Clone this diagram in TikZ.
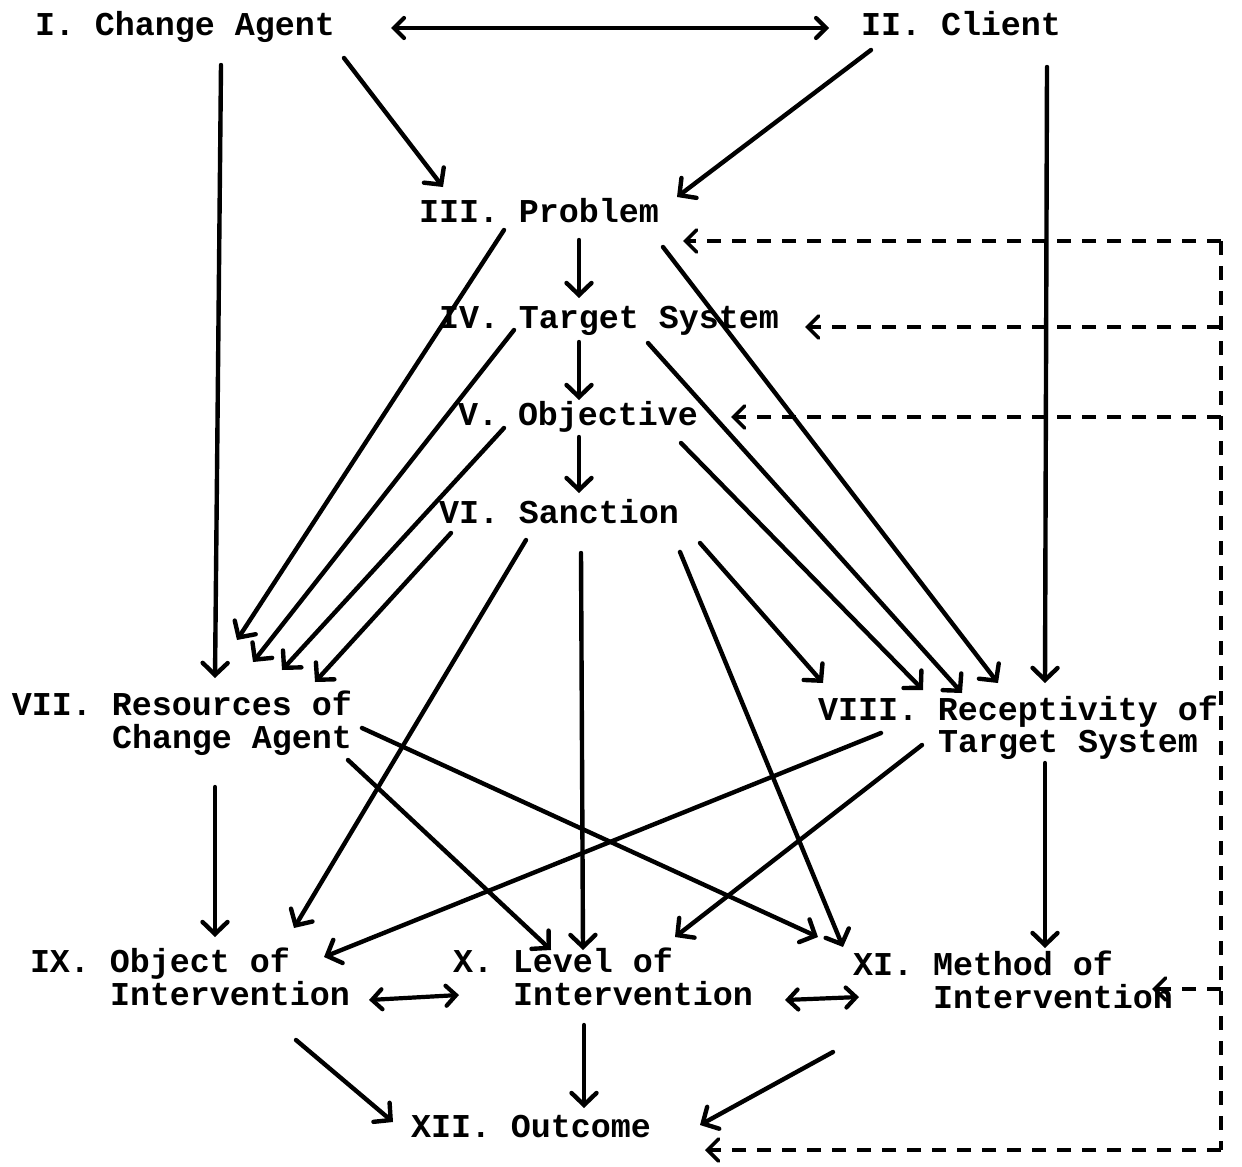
\documentclass[tikz,border=0pt]{standalone}
\usepackage{fontspec}
\newfontfamily\tw{Liberation Mono}
\usetikzlibrary{arrows.meta}
\newcommand\twfont{\tw\bfseries\fontsize{33.33}{32.5}\selectfont}
\begin{document}
\begin{tikzpicture}[x=1pt,y=-1pt,
  lab/.style={anchor=base west,inner sep=0pt,outer sep=0pt,font=\twfont},
  con/.style={line width=4.4pt,line cap=round,-{Straight Barb[length=12pt,width=25pt,line cap=round]}},
  dcon/.style={line width=4.2pt,line cap=round,{Straight Barb[length=10pt,width=20pt,line cap=round]}-{Straight Barb[length=10pt,width=20pt,line cap=round]}},
  fb/.style={line width=3.6pt,dash pattern=on 14pt off 11pt},
  fbarr/.style={fb,-{Straight Barb[length=11pt,width=22pt,line cap=round]}}
]
\useasboundingbox (0,0) rectangle (1242,1167);
% nodes
\node[lab] (nI)   at (35,35)   {I. Change Agent};
\node[lab] (nII)  at (861,35)  {II. Client};
\node[lab] (nIII) at (419,222) {III. Problem};
\node[lab] (nIV)  at (439,328) {IV. Target System};
\node[lab] (nV)   at (458,425) {V. Objective};
\node[lab] (nVI)  at (439,523) {VI. Sanction};
\node[lab] (nVII) at (12,715)  {\begin{tabular}[t]{@{}l@{}}VII. Resources of\\\phantom{VII. }Change Agent\end{tabular}};
\node[lab] (nVIII) at (818,720) {\begin{tabular}[t]{@{}l@{}}VIII. Receptivity of\\\phantom{VIII. }Target System\end{tabular}};
\node[lab] (nIX)  at (30,972)  {\begin{tabular}[t]{@{}l@{}}IX. Object of\\\phantom{IX. }Intervention\end{tabular}};
\node[lab] (nX)   at (453,972) {\begin{tabular}[t]{@{}l@{}}X. Level of\\\phantom{X. }Intervention\end{tabular}};
\node[lab] (nXI)  at (853,975) {\begin{tabular}[t]{@{}l@{}}XI. Method of\\\phantom{XI. }Intervention\end{tabular}};
\node[lab] (nXII) at (411,1137) {XII. Outcome};

% top
\draw[dcon] ([shift={(356,-7)}]nI.base west) -- ([shift={(-32,-7)}]nII.base west);
\draw[con] ([shift={(309,23)}]nI.base west) -- ([shift={(24,-35)}]nIII.base west);
\draw[con] ([shift={(10,15)}]nII.base west) -- ([shift={(258,-25)}]nIII.base west);
\draw[con] ([shift={(186,30)}]nI.base west) -- ([shift={(203,-37)}]nVII.base west);
\draw[con] ([shift={(186,32)}]nII.base west) -- ([shift={(227,-37)}]nVIII.base west);

% central chain
\draw[con] ([shift={(160,18)}]nIII.base west) -- ([shift={(140,-30)}]nIV.base west);
\draw[con] ([shift={(140,14)}]nIV.base west) -- ([shift={(121,-25)}]nV.base west);
\draw[con] ([shift={(121,12)}]nV.base west) -- ([shift={(140,-30)}]nVI.base west);
\draw[con] ([shift={(142,30)}]nVI.base west) -- ([shift={(130,-22)}]nX.base west);

% into VII
\draw[con] ([shift={(85,8)}]nIII.base west) -- ([shift={(225,-75)}]nVII.base west);
\draw[con] ([shift={(75,2)}]nIV.base west) -- ([shift={(241,-53)}]nVII.base west);
\draw[con] ([shift={(46,3)}]nV.base west) -- ([shift={(270,-45)}]nVII.base west);
\draw[con] ([shift={(12,10)}]nVI.base west) -- ([shift={(303,-33)}]nVII.base west);

% into VIII
\draw[con] ([shift={(244,25)}]nIII.base west) -- ([shift={(180,-37)}]nVIII.base west);
\draw[con] ([shift={(209,15)}]nIV.base west) -- ([shift={(144,-27)}]nVIII.base west);
\draw[con] ([shift={(223,18)}]nV.base west) -- ([shift={(105,-30)}]nVIII.base west);
\draw[con] ([shift={(261,20)}]nVI.base west) -- ([shift={(5,-37)}]nVIII.base west);

% VI to IX, XI
\draw[con] ([shift={(87,17)}]nVI.base west) -- ([shift={(264,-44)}]nIX.base west);
\draw[con] ([shift={(241,29)}]nVI.base west) -- ([shift={(-10,-28)}]nXI.base west);

% from VII
\draw[con] ([shift={(203,72)}]nVII.base west) -- ([shift={(185,-35)}]nIX.base west);
\draw[con] ([shift={(336,45)}]nVII.base west) -- ([shift={(98,-22)}]nX.base west);
\draw[con] ([shift={(350,13)}]nVII.base west) -- ([shift={(-35,-38)}]nXI.base west);

% from VIII
\draw[con] ([shift={(63,13)}]nVIII.base west) -- ([shift={(294,-15)}]nIX.base west);
\draw[con] ([shift={(104,25)}]nVIII.base west) -- ([shift={(222,-35)}]nX.base west);
\draw[con] ([shift={(227,43)}]nVIII.base west) -- ([shift={(192,-27)}]nXI.base west);

% bottom row
\draw[dcon] ([shift={(339,28)}]nIX.base west) -- ([shift={(6,23)}]nX.base west);
\draw[dcon] ([shift={(332,28)}]nX.base west) -- ([shift={(6,22)}]nXI.base west);
\draw[con] ([shift={(266,68)}]nIX.base west) -- ([shift={(-18,-15)}]nXII.base west);
\draw[con] ([shift={(131,53)}]nX.base west) -- ([shift={(173,-29)}]nXII.base west);
\draw[con] ([shift={(-20,77)}]nXI.base west) -- ([shift={(289,-12)}]nXII.base west);

% feedback (dashed)
\coordinate (tIII) at ([shift={(264,19)}]nIII.base west);
\coordinate (tIV)  at ([shift={(366,-1)}]nIV.base west);
\coordinate (tV)   at ([shift={(273,-8)}]nV.base west);
\coordinate (tXI)  at ([shift={(299,14)}]nXI.base west);
\coordinate (tXII) at ([shift={(294,13)}]nXII.base west);
\coordinate (fbT) at (1221,241);
\coordinate (fbB) at (1221,1150);
\draw[fb] (fbT) -- (fbB);
\draw[fbarr] (fbT) -- (tIII);
\draw[fbarr] (fbT |- tIV) -- (tIV);
\draw[fbarr] (fbT |- tV) -- (tV);
\draw[fbarr] (fbT |- tXI) -- (tXI);
\draw[fbarr] (fbB) -- (tXII);
\end{tikzpicture}
\end{document}
